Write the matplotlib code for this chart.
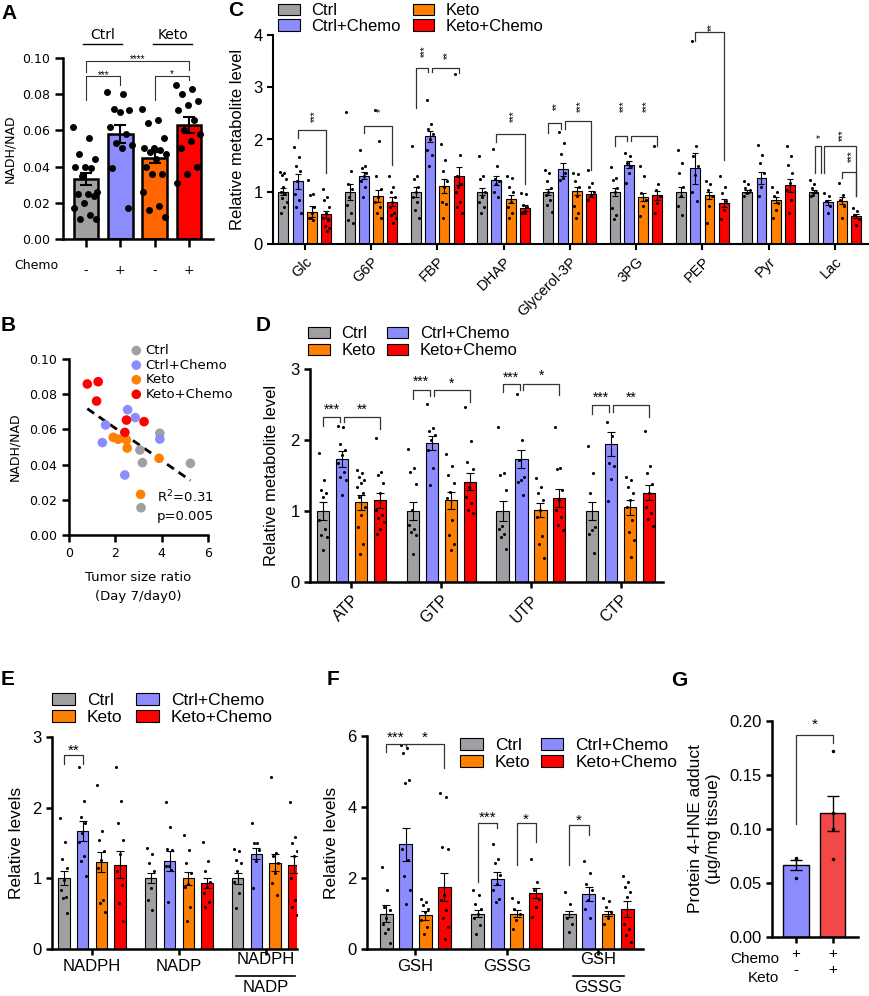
import numpy as np
import matplotlib
matplotlib.use("Agg")
import matplotlib.pyplot as plt
from matplotlib.patches import Patch
import matplotlib.transforms as mtransforms

plt.rcParams["font.family"] = ["Liberation Sans", "DejaVu Sans"]

W, H = 870, 996

groups = ["Ctrl", "Ctrl+Chemo", "Keto", "Keto+Chemo"]
colors = {"Ctrl": "#A0A0A4", "Ctrl+Chemo": "#8C8CFF",
          "Keto": "#FF8000", "Keto+Chemo": "#FF0000"}

# ---- panel A: NADH/NAD
a_ticklabels = ["-", "+", "-", "+"]
a_colors = ["#A0A0A0", "#8C8CFF", "#FF6600", "#FF0000"]
a_means = [0.033, 0.058, 0.045, 0.063]
a_sems = [0.0033, 0.0048, 0.0030, 0.0042]
a_points = [
    [0.062, 0.056, 0.047, 0.044, 0.040, 0.040, 0.039, 0.035, 0.026, 0.025,
     0.025, 0.024, 0.020, 0.017, 0.013, 0.011, 0.011],
    [0.081, 0.080, 0.072, 0.071, 0.070, 0.062, 0.058, 0.053, 0.052, 0.050,
     0.039, 0.017],
    [0.072, 0.066, 0.064, 0.056, 0.050, 0.050, 0.049, 0.048, 0.047, 0.044,
     0.040, 0.036, 0.036, 0.026, 0.018, 0.016, 0.012],
    [0.085, 0.083, 0.080, 0.076, 0.074, 0.071, 0.066, 0.060, 0.058, 0.054,
     0.050, 0.040, 0.036, 0.031]]
a_sig = [(0, 1, 0.0899, 0.077, 0.085, "***"),
         (0, 3, 0.0985, 0.092, 0.0936, "****"),
         (2, 3, 0.0902, 0.077, 0.088, "*")]

# ---- panel B: scatter vs tumor size ratio
b_x = {"Ctrl": [3.92, 3.06, 3.17, 5.24, 3.11],
       "Ctrl+Chemo": [1.58, 1.44, 2.53, 2.86, 3.92, 2.41],
       "Keto": [1.91, 2.12, 2.48, 2.51, 3.89, 3.09],
       "Keto+Chemo": [0.79, 1.26, 1.19, 2.48, 2.41, 3.24]}
b_y = {"Ctrl": [0.0578, 0.0483, 0.0411, 0.0407, 0.0155],
       "Ctrl+Chemo": [0.0625, 0.0525, 0.0712, 0.0667, 0.0545, 0.0341],
       "Keto": [0.0555, 0.0544, 0.0540, 0.0494, 0.0436, 0.0231],
       "Keto+Chemo": [0.0858, 0.0871, 0.0761, 0.0653, 0.0583, 0.0644]}

# ---- panel C: glycolytic metabolites
c_cats = ["Glc", "G6P", "FBP", "DHAP", "Glycerol-3P", "3PG", "PEP", "Pyr", "Lac"]
c_means = {"Ctrl": [1.0, 1.0, 1.0, 1.0, 1.0, 1.0, 1.0, 1.0, 1.0],
           "Ctrl+Chemo": [1.2, 1.31, 2.06, 1.22, 1.43, 1.52, 1.45, 1.26, 0.80],
           "Keto": [0.62, 0.92, 1.11, 0.86, 1.01, 0.90, 0.93, 0.84, 0.83],
           "Keto+Chemo": [0.57, 0.81, 1.30, 0.69, 0.96, 0.93, 0.78, 1.12, 0.53]}
c_sems = {"Ctrl": [0.07, 0.15, 0.10, 0.07, 0.06, 0.08, 0.10, 0.03, 0.03],
          "Ctrl+Chemo": [0.14, 0.07, 0.10, 0.09, 0.12, 0.06, 0.30, 0.11, 0.05],
          "Keto": [0.10, 0.12, 0.13, 0.08, 0.08, 0.08, 0.07, 0.06, 0.06],
          "Keto+Chemo": [0.07, 0.08, 0.17, 0.06, 0.06, 0.08, 0.08, 0.12, 0.04]}
c_points = {
    "Ctrl": [[1.38, 1.36, 1.33, 1.25, 1.1, 1.0, 0.95, 0.88, 0.8, 0.7, 0.6],
             [2.52, 1.4, 1.15, 1.05, 0.9, 0.75, 0.6, 0.45, 0.4],
             [1.87, 1.3, 1.25, 1.1, 1.0, 0.9, 0.8, 0.65, 0.5],
             [1.68, 1.3, 1.25, 1.0, 0.9, 0.8, 0.7, 0.6],
             [1.41, 1.36, 1.2, 1.07, 1.0, 0.94, 0.85, 0.75, 0.62],
             [1.47, 1.26, 1.23, 1.07, 0.99, 0.69, 0.56, 0.47],
             [1.79, 1.55, 1.36, 1.1, 0.91, 0.72, 0.56],
             [1.2, 1.14, 1.07, 1.04, 0.98, 0.91],
             [1.23, 1.14, 1.07, 1.0, 0.94, 0.91]],
    "Ctrl+Chemo": [[1.85, 1.67, 1.5, 1.4, 1.2, 0.95, 0.85, 0.7, 0.6],
                   [1.8, 1.5, 1.45, 1.35, 1.3, 1.2, 1.1, 0.9],
                   [2.75, 2.3, 2.2, 2.1, 2.0, 1.8, 1.7, 1.5],
                   [1.82, 1.5, 1.25, 1.2, 1.15, 1.0, 0.9],
                   [2.14, 1.93, 1.73, 1.36, 1.26, 1.23],
                   [1.74, 1.68, 1.55, 1.49, 1.36, 1.17],
                   [3.88, 1.88, 1.68, 1.49, 1.33, 0.99, 0.82],
                   [1.89, 1.71, 1.55, 1.36, 1.1, 0.91],
                   [0.98, 0.91, 0.82, 0.72, 0.59]],
    "Keto": [[1.22, 0.95, 0.93, 0.7, 0.6, 0.5, 0.45, 0.5],
             [2.57, 1.97, 1.3, 1.05, 0.9, 0.8, 0.7, 0.6, 0.5],
             [1.92, 1.6, 1.4, 1.2, 1.1, 0.8, 0.77, 0.5],
             [1.3, 1.27, 1.1, 1.0, 0.8, 0.7, 0.6, 0.5],
             [1.36, 1.34, 1.2, 1.1, 0.91, 0.72, 0.59, 0.5],
             [1.5, 1.3, 0.98, 0.85, 0.72, 0.53],
             [1.2, 1.14, 1.04, 0.91, 0.72, 0.4],
             [1.1, 1.0, 0.91, 0.78, 0.66, 0.5],
             [1.17, 0.94, 0.85, 0.72, 0.5]],
    "Keto+Chemo": [[1.05, 0.9, 0.85, 0.7, 0.6, 0.5, 0.45, 0.35, 0.3, 0.25],
                   [1.3, 1.1, 1.0, 0.9, 0.8, 0.7, 0.6, 0.55, 0.5, 0.4],
                   [3.25, 1.7, 1.3, 1.15, 1.1, 1.0, 0.8, 0.7, 0.6],
                   [0.98, 0.95, 0.75, 0.7, 0.6, 0.6],
                   [1.41, 1.17, 1.1, 1.0, 0.91, 0.85],
                   [1.87, 1.14, 1.04, 0.91, 0.78, 0.59],
                   [1.31, 1.1, 0.98, 0.82, 0.66, 0.47],
                   [1.87, 1.68, 1.52, 1.36, 1.17, 1.04, 0.85, 0.59],
                   [0.69, 0.63, 0.56, 0.47, 0.37]]}
# (category, bar i, bar j, top, left leg end, right leg end, label, label centre)
c_sig = [(0, 1, 3, 2.19, 2.03, 1.36, "***", 2.44),
         (1, 1, 3, 2.26, 2.12, 1.52, "*", 2.57),
         (2, 0, 0.85, 3.37, 2.6, 3.29, "***", 3.69),
         (2, 1.15, 3, 3.37, 3.29, 3.27, "**", 3.62),
         (3, 1, 3, 2.10, 1.95, 1.14, "***", 2.44),
         (4, 0, 0.85, 2.32, 2.12, 2.2, "**", 2.63),
         (4, 1.15, 3, 2.36, 2.2, 1.42, "***", 2.63),
         (5, 0, 0.85, 2.07, 1.87, 1.98, "***", 2.63),
         (5, 1.15, 3, 2.07, 1.98, 1.87, "***", 2.63),
         (6, 1, 3, 4.05, 3.88, 1.61, "**", 4.15),
         (8, 0.1, 0.5, 1.87, 1.36, 1.36, "*", 2.06),
         (8, 0.75, 3, 1.87, 1.36, 0.91, "***", 2.09),
         (8, 2, 3, 1.37, 1.26, 0.91, "***", 1.68)]

# ---- panel D: nucleotides
d_cats = ["ATP", "GTP", "UTP", "CTP"]
d_means = {"Ctrl": [1.0, 1.0, 1.0, 1.0],
           "Ctrl+Chemo": [1.73, 1.96, 1.73, 1.94],
           "Keto": [1.12, 1.15, 1.01, 1.05],
           "Keto+Chemo": [1.15, 1.41, 1.18, 1.26]}
d_sems = {"Ctrl": [0.12, 0.13, 0.14, 0.13],
          "Ctrl+Chemo": [0.11, 0.10, 0.13, 0.17],
          "Keto": [0.11, 0.12, 0.10, 0.10],
          "Keto+Chemo": [0.11, 0.12, 0.13, 0.10]}
d_points = {
    "Ctrl": [[1.81, 1.44, 1.3, 1.25, 1.2, 0.87, 0.75, 0.66, 0.64, 0.45],
             [1.87, 1.61, 1.55, 1.38, 1.01, 0.8, 0.75, 0.71, 0.66, 0.4],
             [2.18, 1.54, 1.51, 1.29, 0.79, 0.74, 0.68, 0.64, 0.47],
             [1.92, 1.54, 1.26, 0.78, 0.73, 0.67, 0.41]],
    "Ctrl+Chemo": [[2.2, 2.19, 1.95, 1.86, 1.79, 1.67, 1.55, 1.48, 1.44, 1.23],
                   [2.51, 2.17, 2.12, 2.07, 2.0, 1.86, 1.6, 1.37],
                   [2.65, 2.0, 1.72, 1.48, 1.44, 1.41, 1.22],
                   [2.26, 2.05, 1.68, 1.63, 1.45, 1.14]],
    "Keto": [[1.58, 1.53, 1.48, 1.44, 1.39, 1.34, 1.25, 1.2, 1.06, 0.94, 0.78, 0.54, 0.4],
             [1.8, 1.63, 1.51, 1.39, 1.27, 1.18, 0.87, 0.66, 0.54, 0.45],
             [1.46, 1.34, 1.25, 1.15, 1.01, 0.92, 0.65, 0.54, 0.34],
             [1.48, 1.44, 1.34, 1.25, 1.15, 1.06, 0.87, 0.71, 0.59, 0.35]],
    "Keto+Chemo": [[2.03, 1.55, 1.51, 1.39, 1.25, 1.01, 0.94, 0.9, 0.85, 0.75, 0.67],
                   [2.46, 1.99, 1.69, 1.59, 1.34, 1.2, 1.11, 1.01, 0.97],
                   [2.18, 1.61, 1.59, 1.3, 1.15, 1.01, 0.92, 0.8, 0.73],
                   [2.12, 1.63, 1.54, 1.38, 1.25, 1.06, 0.97, 0.89, 0.79]]}
d_sig = [(0, 0, 0.9, 2.32, 2.2, 2.25, "***", 2.48), (0, 1.1, 3, 2.32, 2.25, 2.15, "**", 2.48),
         (1, 0, 0.9, 2.71, 2.58, 2.62, "***", 2.87), (1, 1.1, 3, 2.71, 2.62, 2.54, "*", 2.85),
         (2, 0, 0.9, 2.79, 2.68, 2.71, "***", 2.93), (2, 1.1, 3, 2.79, 2.71, 2.64, "*", 2.96),
         (3, 0, 0.9, 2.49, 2.36, 2.40, "***", 2.65), (3, 1.1, 3, 2.49, 2.40, 2.33, "**", 2.65)]

# ---- panel E: NADPH / NADP
e_cats = ["NADPH", "NADP", ("NADPH", "NADP")]
e_means = {"Ctrl": [1.0, 1.0, 1.0],
           "Ctrl+Chemo": [1.67, 1.25, 1.35],
           "Keto": [1.23, 1.0, 1.22],
           "Keto+Chemo": [1.19, 0.93, 1.19]}
e_sems = {"Ctrl": [0.10, 0.07, 0.08],
          "Ctrl+Chemo": [0.14, 0.14, 0.08],
          "Keto": [0.14, 0.09, 0.12],
          "Keto+Chemo": [0.19, 0.07, 0.12]}
e_points = {
    "Ctrl": [[1.85, 1.52, 1.27, 1.14, 0.98, 0.84, 0.74, 0.72, 0.51],
             [1.43, 1.35, 1.21, 1.1, 0.87, 0.7, 0.55],
             [1.42, 1.38, 1.26, 1.21, 1.1, 0.95, 0.79, 0.58]],
    "Ctrl+Chemo": [[2.58, 2.1, 1.87, 1.78, 1.64, 1.52, 1.31, 1.24, 1.03],
                   [2.08, 1.73, 1.42, 1.4, 1.18, 1.17, 1.12, 0.67],
                   [1.79, 1.5, 1.5, 1.4, 1.24, 0.87]],
    "Keto": [[2.32, 1.67, 1.54, 1.38, 1.26, 1.14, 0.7, 0.65, 0.52],
             [1.62, 1.4, 1.21, 1.07, 0.92, 0.88, 0.6, 0.39],
             [2.44, 1.36, 1.31, 1.21, 1.07, 0.93, 0.77]],
    "Keto+Chemo": [[2.58, 2.09, 1.79, 1.54, 1.35, 1.1, 0.91, 0.65, 0.4],
                   [1.51, 1.24, 1.1, 0.95, 0.88, 0.79, 0.66, 0.6],
                   [2.08, 1.58, 1.5, 1.38, 1.31, 1.0, 0.7, 0.6, 0.48]]}
e_sig = [(0, 0, 1, 2.75, 2.62, 2.62, "**", 2.87)]

# ---- panel F: GSH / GSSG
f_cats = ["GSH", "GSSG", ("GSH", "GSSG")]
f_means = {"Ctrl": [1.0, 1.0, 0.98],
           "Ctrl+Chemo": [2.95, 1.98, 1.54],
           "Keto": [0.95, 1.0, 1.0],
           "Keto+Chemo": [1.74, 1.58, 1.13]}
f_sems = {"Ctrl": [0.25, 0.09, 0.08],
          "Ctrl+Chemo": [0.47, 0.19, 0.20],
          "Keto": [0.12, 0.10, 0.08],
          "Keto+Chemo": [0.40, 0.14, 0.22]}
f_points = {
    "Ctrl": [[2.31, 1.67, 1.17, 1.11, 0.88, 0.71, 0.57, 0.45, 0.17],
             [1.66, 1.51, 1.28, 1.14, 1.0, 0.86, 0.67, 0.43],
             [1.61, 1.28, 0.86, 0.71, 0.48]],
    "Ctrl+Chemo": [[5.75, 5.65, 5.51, 4.76, 4.67, 2.83, 2.5, 2.05, 1.66, 1.28],
                   [2.97, 2.53, 2.41, 2.08, 1.84, 1.66, 1.42, 1.33],
                   [2.48, 2.14, 1.82, 1.66, 1.37, 1.14, 0.86]],
    "Keto": [[1.42, 1.33, 1.23, 1.14, 1.04, 0.81, 0.62, 0.41],
             [1.44, 1.33, 1.14, 1.0, 0.81, 0.57],
             [1.45, 1.35, 1.19, 1.04, 0.86, 0.71]],
    "Keto+Chemo": [[4.4, 4.29, 2.88, 2.83, 1.51, 1.37, 1.09, 0.86, 0.62, 0.29],
                   [2.53, 1.89, 1.66, 1.42, 1.19, 0.9],
                   [2.05, 1.89, 1.75, 1.61, 1.47, 0.71, 0.57, 0.39, 0.2]]}
f_sig = [(0, 0, 1, 5.78, 5.56, 5.72, "***", 6.08),
         (0, 1, 3, 5.78, 5.72, 5.09, "*", 6.08),
         (1, 0, 1, 3.54, 1.89, 3.40, "***", 3.82),
         (1, 2, 3, 3.54, 2.36, 3.02, "*", 3.77),
         (2, 0, 1, 3.49, 2.36, 3.20, "*", 3.74)]

# ---- panel G: 4-HNE adduct
g_colors = ["#8C8CFF", "#F24848"]
g_chemo = ["+", "+"]
g_keto = ["-", "+"]
g_means = [0.0667, 0.1145]
g_sems = [0.0045, 0.0165]
g_points = [[0.073, 0.072, 0.055], [0.172, 0.115, 0.100, 0.072]]


fig = plt.figure(figsize=(W / 100, H / 100), dpi=100)


def px_axes(l, t, r, b):
    return fig.add_axes([l / W, 1 - b / H, (r - l) / W, (b - t) / H])


def style(ax, lw=1.5, fs=11, tlen=4):
    for s in ("top", "right"):
        ax.spines[s].set_visible(False)
    for s in ("left", "bottom"):
        ax.spines[s].set_linewidth(lw)
    ax.tick_params(direction="out", length=tlen, width=lw, labelsize=fs)


def spread(n, w):
    k = np.arange(n)
    return ((k * 0.618) % 1 - 0.5) * w


def stars(ax, x, y, label, fs, rot=0):
    off = (fs * 0.28, 0) if rot else (0, -fs * 0.28)
    ax.annotate(label, (x, y), xytext=off, textcoords="offset points",
                ha="center", va="center", rotation=rot, fontsize=fs,
                annotation_clip=False)


def bracket(ax, x1, x2, top, l1, l2, lw=0.9):
    ax.plot([x1, x1, x2, x2], [l1, top, top, l2], color="#333333", lw=lw,
            clip_on=False, zorder=5)


def grouped(ax, means, sems, points, step, width, ms, cap, lw=0.8):
    base = np.arange(len(means["Ctrl"]))
    for k, g in enumerate(groups):
        x = base + (k - 1.5) * step
        ax.bar(x, means[g], width, color=colors[g], edgecolor="black",
               linewidth=lw, zorder=2)
        ax.errorbar(x, means[g], yerr=sems[g], fmt="none", ecolor="black",
                    elinewidth=lw, capsize=cap, capthick=lw, zorder=3)
        for xi, pts in zip(x, points[g]):
            ax.plot(xi + spread(len(pts), width * 0.7), pts, "o",
                    color="black", ms=ms, mew=0, zorder=4)


def sig_list(ax, sig, step, fs, rot=0):
    for c, i, j, top, l1, l2, lab, ty in sig:
        x1 = c + (i - 1.5) * step
        x2 = c + (j - 1.5) * step
        bracket(ax, x1, x2, top, l1, l2)
        stars(ax, (x1 + x2) / 2, ty, lab, fs, rot)


def group_legend(ax, order, anchor, fs, colsp, labsp):
    handles = [Patch(facecolor=colors[g], edgecolor="black", lw=0.8, label=g)
               for g in order]
    ax.legend(handles=handles, ncol=2, loc="upper left",
              bbox_to_anchor=(anchor[0] / W, 1 - anchor[1] / H),
              bbox_transform=fig.transFigure, frameon=False, fontsize=fs,
              handlelength=1.3, handleheight=0.65, handletextpad=0.7,
              columnspacing=colsp, labelspacing=labsp, borderpad=0,
              borderaxespad=0)


def fraction_label(ax, x, top, bottom, half, fs, y1, yl, y2):
    tr = mtransforms.blended_transform_factory(ax.transData, ax.transAxes)
    ax.text(x, y1, top, transform=tr, ha="center", va="center", fontsize=fs)
    ax.text(x, y2, bottom, transform=tr, ha="center", va="center", fontsize=fs)
    ax.plot([x - half, x + half], [yl, yl], color="black", lw=1.2,
            transform=tr, clip_on=False)


def panel_letter(x, y, s):
    fig.text(x / W, 1 - y / H, s, fontsize=15, fontweight="bold",
             ha="left", va="top")


# ---------------- A ----------------
axA = px_axes(63, 58, 213, 239)
style(axA, lw=1.8, fs=9, tlen=6)
xa = np.arange(4)
axA.bar(xa, a_means, 0.72, color=a_colors, edgecolor="black", linewidth=1.8,
        zorder=2)
axA.errorbar(xa, a_means, yerr=a_sems, fmt="none", ecolor="black",
             elinewidth=1.5, capsize=4, capthick=1.5, zorder=3)
for xi, pts in zip(xa, a_points):
    axA.plot(xi + spread(len(pts), 0.75), pts, "o", color="black", ms=5,
             mew=0, zorder=4)
for i, j, top, l1, l2, lab in a_sig:
    bracket(axA, i, j, top, l1, l2, lw=0.8)
    stars(axA, (i + j) / 2, top + 0.0022, lab, 7)
axA.set_xlim(-0.67, 3.7)
axA.set_ylim(0, 0.1)
axA.set_yticks(np.arange(0, 0.101, 0.02))
axA.set_yticklabels([f"{v:.2f}" for v in np.arange(0, 0.101, 0.02)],
                    family="DejaVu Sans")
axA.set_xticks(xa)
axA.set_xticklabels(a_ticklabels, family="DejaVu Sans", fontsize=9)
axA.tick_params(axis="x", pad=12)
axA.set_ylabel("NADH/NAD", fontsize=9, family="DejaVu Sans", labelpad=4)
axA.text(-0.18, -0.145, "Chemo", transform=axA.transAxes, fontsize=9,
         family="DejaVu Sans", ha="center", va="center")
for lab, x1, x2 in (("Ctrl", -0.1, 1.05), ("Keto", 1.95, 3.1)):
    axA.plot([x1, x2], [0.1075, 0.1075], color="black", lw=1, clip_on=False)
    axA.text((x1 + x2) / 2, 0.1125, lab, ha="center", va="center",
             fontsize=10, family="DejaVu Sans")

# ---------------- B ----------------
axB = px_axes(69, 359, 208, 535)
style(axB, lw=1.8, fs=9, tlen=5)
for g in groups:
    axB.scatter(b_x[g], b_y[g], s=48, color=colors[g], edgecolor="none",
                zorder=3, label=g, clip_on=False)
allx = np.concatenate([b_x[g] for g in groups])
ally = np.concatenate([b_y[g] for g in groups])
slope, icpt = np.polyfit(allx, ally, 1)
xx = np.array([allx.min(), allx.max()])
axB.plot(xx, slope * xx + icpt, "k--", lw=2, dashes=(3, 2), zorder=2)
axB.set_xlim(0, 6)
axB.set_ylim(0, 0.1)
axB.set_xticks([0, 2, 4, 6])
axB.set_yticks(np.arange(0, 0.101, 0.02))
axB.set_yticklabels([f"{v:.2f}" for v in np.arange(0, 0.101, 0.02)],
                    family="DejaVu Sans")
axB.set_xticklabels(["0", "2", "4", "6"], family="DejaVu Sans")
axB.set_ylabel("NADH/NAD", fontsize=9, family="DejaVu Sans", labelpad=6)
axB.set_xlabel("Tumor size ratio\n(Day 7/day0)", fontsize=9.5,
               family="DejaVu Sans", linespacing=1.6, labelpad=8)
axB.text(3.8, 0.0215, "R$^2$=0.31", fontsize=9.5, family="DejaVu Sans",
         va="center")
axB.text(3.8, 0.0105, "p=0.005", fontsize=9.5, family="DejaVu Sans",
         va="center")
axB.legend(loc="upper left", bbox_to_anchor=(131 / W, 1 - 344 / H),
           bbox_transform=fig.transFigure, frameon=False,
           prop={"family": "DejaVu Sans", "size": 9.5}, handlelength=0.8,
           handletextpad=0.3, labelspacing=0.12, borderpad=0, borderaxespad=0)

# ---------------- C ----------------
axC = px_axes(273, 35, 868, 244)
style(axC, lw=1.5, fs=12)
c_step = 0.215
grouped(axC, c_means, c_sems, c_points, c_step, 0.15, 2.2, 2)
sig_list(axC, c_sig, c_step, 7, rot=90)
axC.set_xlim(-0.48, 8.5)
axC.set_ylim(0, 4)
axC.set_yticks(range(5))
axC.set_xticks(range(len(c_cats)))
axC.set_xticklabels(c_cats, rotation=45, ha="right", rotation_mode="anchor",
                    fontsize=10.5)
axC.set_ylabel("Relative metabolite level", fontsize=12, labelpad=6)
group_legend(axC, ["Ctrl", "Ctrl+Chemo", "Keto", "Keto+Chemo"], (278, 3),
             12, 0.7, 0.05)

# ---------------- D ----------------
axD = px_axes(310, 369, 663, 582)
style(axD, lw=1.8, fs=12)
d_step = 0.211
grouped(axD, d_means, d_sems, d_points, d_step, 0.135, 2.2, 3)
sig_list(axD, d_sig, d_step, 10)
axD.set_xlim(-0.46, 3.47)
axD.set_ylim(0, 3)
axD.set_yticks(range(4))
axD.set_xticks(range(len(d_cats)))
axD.set_xticklabels(d_cats, rotation=45, ha="right", rotation_mode="anchor",
                    fontsize=11.5)
axD.set_ylabel("Relative metabolite level", fontsize=12, labelpad=8)
group_legend(axD, ["Ctrl", "Keto", "Ctrl+Chemo", "Keto+Chemo"], (308, 326),
             12, 0.65, 0.12)

# ---------------- E ----------------
axE = px_axes(52, 737, 297, 949)
style(axE, lw=1.8, fs=12)
e_step = 0.215
grouped(axE, e_means, e_sems, e_points, e_step, 0.13, 2.2, 3)
sig_list(axE, e_sig, e_step, 11)
axE.set_xlim(-0.46, 2.36)
axE.set_ylim(0, 3)
axE.set_yticks(range(4))
axE.set_xticks(range(len(e_cats)))
axE.set_xticklabels([c if isinstance(c, str) else "" for c in e_cats],
                    fontsize=12)
fraction_label(axE, 2, e_cats[2][0], e_cats[2][1], 0.34, 12, -0.05, -0.128,
               -0.18)
axE.set_ylabel("Relative levels", fontsize=12.5, labelpad=6)
group_legend(axE, ["Ctrl", "Keto", "Ctrl+Chemo", "Keto+Chemo"], (52, 693),
             12.5, 0.8, 0.12)

# ---------------- F ----------------
axF = px_axes(367, 736, 643, 949)
style(axF, lw=1.8, fs=12)
f_step = 0.212
grouped(axF, f_means, f_sems, f_points, f_step, 0.14, 2.2, 3)
sig_list(axF, f_sig, f_step, 11)
axF.set_xlim(-0.53, 2.49)
axF.set_ylim(0, 6)
axF.set_yticks([0, 2, 4, 6])
axF.set_xticks(range(len(f_cats)))
axF.set_xticklabels([c if isinstance(c, str) else "" for c in f_cats],
                    fontsize=12)
fraction_label(axF, 2, f_cats[2][0], f_cats[2][1], 0.28, 12, -0.05, -0.128,
               -0.18)
axF.set_ylabel("Relative levels", fontsize=12.5, labelpad=6)
group_legend(axF, ["Ctrl", "Keto", "Ctrl+Chemo", "Keto+Chemo"], (460, 738),
             12.5, 0.6, 0.12)

# ---------------- G ----------------
axG = px_axes(772, 721, 858, 937)
style(axG, lw=1.8, fs=12)
xg = np.arange(2)
axG.bar(xg, g_means, 0.68, color=g_colors, edgecolor="black", linewidth=1,
        zorder=2)
axG.errorbar(xg, g_means, yerr=g_sems, fmt="none", ecolor="black",
             elinewidth=1, capsize=4, capthick=1, zorder=3)
for xi, pts in zip(xg, g_points):
    axG.plot(np.full(len(pts), xi), pts, "o", color="black", ms=2.5, mew=0,
             zorder=4)
bracket(axG, 0, 1, 0.187, 0.105, 0.18)
stars(axG, 0.5, 0.2, "*", 11)
axG.set_xlim(-0.65, 1.68)
axG.set_ylim(0, 0.2)
axG.set_yticks(np.arange(0, 0.201, 0.05))
axG.set_yticklabels([f"{v:.2f}" for v in np.arange(0, 0.201, 0.05)])
axG.set_xticks(xg)
axG.set_xticklabels([f"{c}\n{k}" for c, k in zip(g_chemo, g_keto)],
                    fontsize=11, linespacing=1.1)
trG = mtransforms.blended_transform_factory(axG.transData, axG.transAxes)
axG.text(-0.45, -0.1, "Chemo", transform=trG, fontsize=11, ha="right",
         va="center")
axG.text(-0.45, -0.19, "Keto", transform=trG, fontsize=11, ha="right",
         va="center")
axG.set_ylabel("Protein 4-HNE adduct\n(\u00b5g/mg tissue)", fontsize=12.5,
               labelpad=6, linespacing=1.2)

panel_letter(1, 4, "A")
panel_letter(1, 316, "B")
panel_letter(228, 1, "C")
panel_letter(256, 316, "D")
panel_letter(1, 670, "E")
panel_letter(327, 670, "F")
panel_letter(671, 671, "G")

fig.savefig("out.png", dpi=100)
